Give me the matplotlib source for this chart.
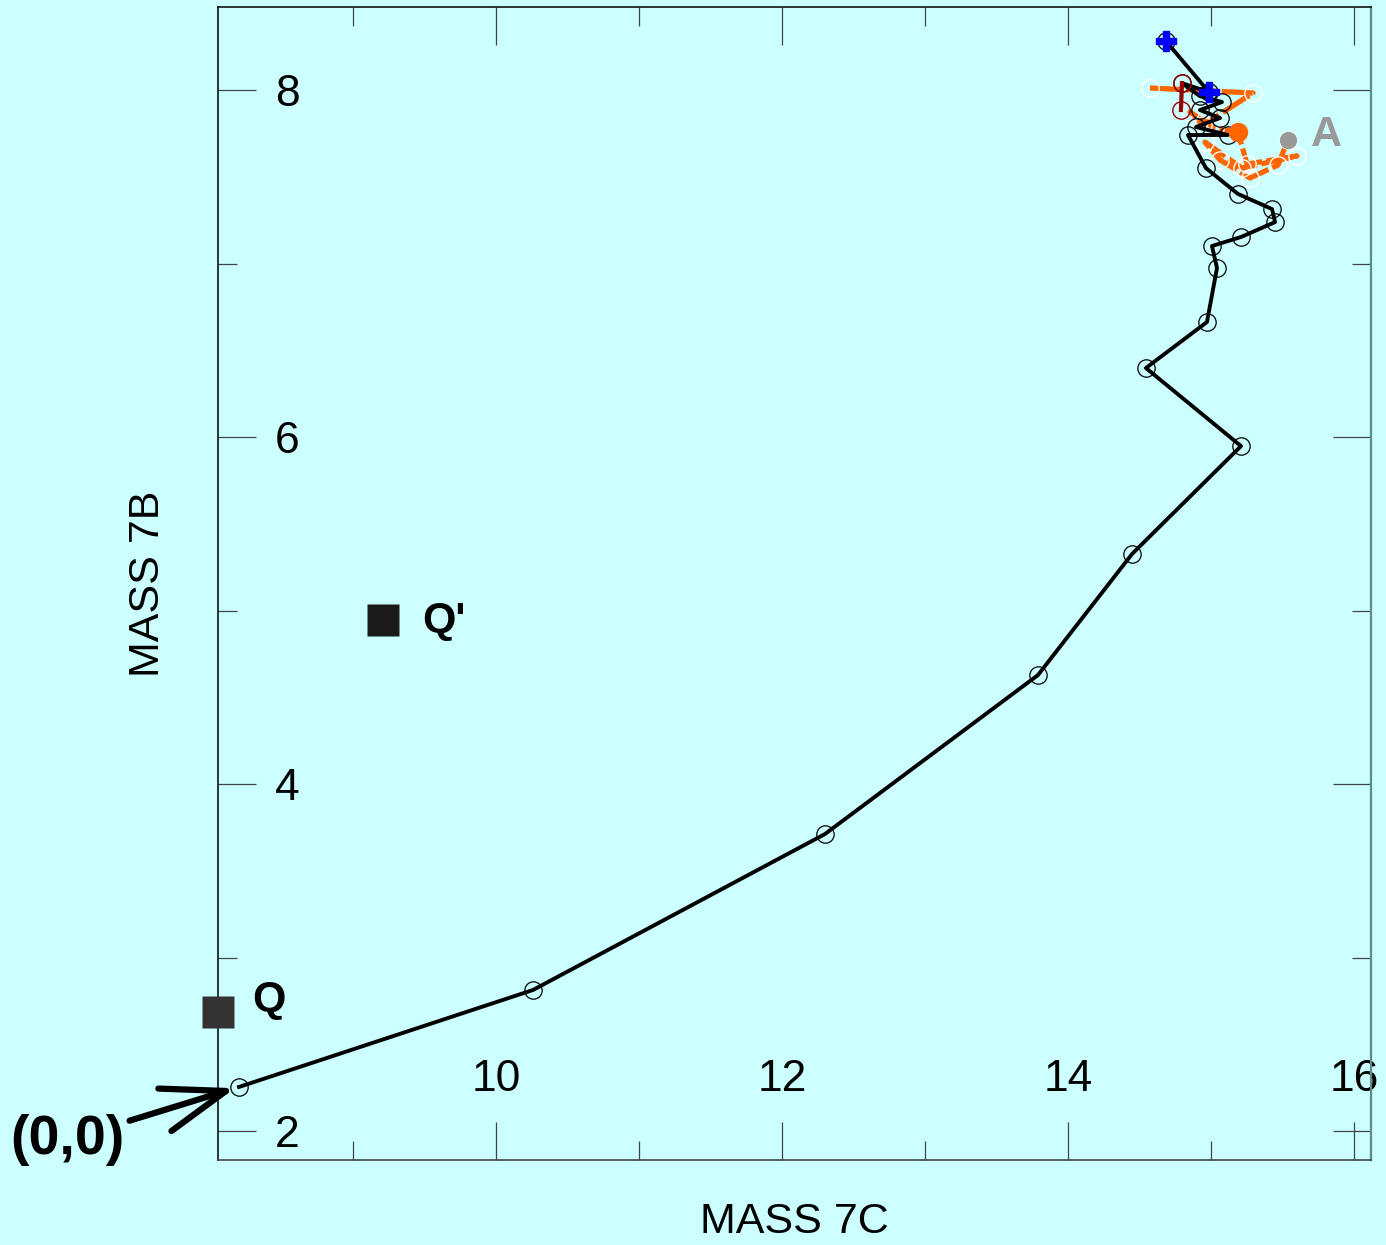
import matplotlib
matplotlib.use("Agg")
import matplotlib.pyplot as plt
from matplotlib.ticker import MultipleLocator, FixedLocator

plt.rcParams['font.family'] = ['Liberation Sans', 'DejaVu Sans']

BG = '#CCFFFF'

# Main trajectory (black) starting from the origin point
path_x = [8.203, 10.259, 12.301, 13.790, 14.448, 15.210, 14.545, 14.972, 15.042,
          15.007, 15.210, 15.448, 15.427, 15.189, 14.965, 14.839, 15.119, 14.895,
          15.063, 14.923, 15.077, 14.923, 14.797, 14.986, 14.685]
path_y = [2.254, 2.813, 3.712, 4.628, 5.326, 5.948, 6.398, 6.663, 6.974,
          7.101, 7.153, 7.239, 7.314, 7.401, 7.550, 7.741, 7.741, 7.787,
          7.839, 7.885, 7.931, 7.965, 8.040, 7.988, 8.282]

# Secondary trajectory (orange, dashed)
orange_x = [14.573, 15.294, 14.944, 14.853, 15.028, 15.189, 15.252, 15.601,
            15.217, 14.958, 15.063, 15.273, 15.469, 15.538]
orange_y = [8.012, 7.983, 7.798, 7.873, 7.781, 7.758, 7.573, 7.620,
            7.550, 7.700, 7.597, 7.493, 7.568, 7.712]

# Short dark-red segment
red_x = [14.797, 14.790]
red_y = [8.040, 7.885]

# Highlighted points
cross_x = [14.685, 14.986]
cross_y = [8.282, 7.988]
orange_dot = (15.189, 7.758)
point_a = (15.538, 7.712)
q_point = (8.056, 2.686)
q_prime = (9.210, 4.945)

x_major = [10, 12, 14, 16]
y_major = [2, 4, 6, 8]
x_labels = ['10', '12', '14', '16']
y_labels = ['2', '4', '6', '8']

W, H = 1386, 1245
fig = plt.figure(figsize=(W / 100, H / 100), dpi=100, facecolor=BG)
ax = fig.add_axes([218 / W, 1 - 1160 / H, (1371 - 218) / W, (1160 - 7.3) / H])
ax.set_facecolor(BG)
ax.set_xlim(8.056, 16.119)
ax.set_ylim(1.833, 8.477)

# orange trajectory
ax.plot(orange_x, orange_y, color='#FF6600', lw=3.8, linestyle=(0, (6, 0.8)),
        zorder=2, solid_capstyle='butt')
ax.plot(orange_x, orange_y, linestyle='none', marker='o', ms=12.5, mfc='none',
        mec='white', mew=1.0, zorder=2.5)

# black trajectory
ax.plot(path_x, path_y, color='black', lw=2.8, zorder=3)
ax.plot(path_x, path_y, linestyle='none', marker='o', ms=12.5, mfc='none',
        mec='black', mew=0.9, zorder=3.5)

# dark-red segment
ax.plot(red_x, red_y, color='#990000', lw=3.0, zorder=3.2)
ax.plot(red_x, red_y, linestyle='none', marker='o', ms=12.5, mfc='none',
        mec='#990000', mew=1.0, zorder=3.6)

ax.plot(*orange_dot, marker='o', ms=14, color='#FF6600', mec='none', zorder=4)
ax.plot(*point_a, marker='o', ms=12.5, color='#999999', mec='none', zorder=4)
ax.plot(cross_x, cross_y, linestyle='none', marker='P', ms=15, color='#0000FF',
        mec='#0000FF', zorder=5)

ax.plot(*q_point, marker='s', ms=23, color='#333333', mec='none', zorder=5, clip_on=False)
ax.plot(*q_prime, marker='s', ms=23, color='#1A1A1A', mec='none', zorder=5)

ax.text(8.295, 2.755, 'Q', fontsize=31, fontweight='bold', ha='left', va='center')
ax.text(9.483, 4.94, "Q'", fontsize=31, fontweight='bold', ha='left', va='center')
ax.text(15.700, 7.741, 'A', fontsize=31, fontweight='bold', color='#999999',
        ha='left', va='center')

ax.annotate('(0,0)', xy=(path_x[0], path_y[0]), xycoords='data',
            xytext=(67, H - 1140), textcoords='figure pixels',
            fontsize=40, fontweight='bold', ha='center', va='center',
            arrowprops=dict(arrowstyle='->, head_length=2.3, head_width=0.8',
                            lw=4.5, color='black', mutation_scale=20,
                            shrinkA=2, shrinkB=3),
            annotation_clip=False, zorder=6)

# ticks inside the frame with labels drawn inside
ax.xaxis.set_major_locator(FixedLocator(x_major))
ax.yaxis.set_major_locator(FixedLocator(y_major))
ax.set_xticklabels(x_labels)
ax.set_yticklabels(y_labels)
ax.xaxis.set_minor_locator(MultipleLocator(1))
ax.yaxis.set_minor_locator(MultipleLocator(1))
ax.tick_params(which='major', direction='in', length=27.5, width=0.9, color='#444444',
               top=True, right=True, labelsize=32)
ax.tick_params(which='minor', direction='in', length=14, width=0.9, color='#444444',
               top=True, right=True)
ax.tick_params(axis='x', which='major', pad=-73)
ax.tick_params(axis='y', which='major', pad=-59)

for side in ['left', 'top']:
    ax.spines[side].set_color('#111111')
    ax.spines[side].set_linewidth(1.2)
ax.spines['bottom'].set_color('#444444')
ax.spines['bottom'].set_linewidth(1.2)
ax.spines['right'].set_color('#5E8C8C')
ax.spines['right'].set_linewidth(1.6)

ax.set_xlabel('MASS 7C', fontsize=31)
ax.set_ylabel('MASS 7B', fontsize=31)
ax.xaxis.set_label_coords(0.5, (1160 - 1222) / 1152.7)
ax.xaxis.label.set_va('center')
ax.yaxis.set_label_coords((148 - 218) / 1153, 0.5)
ax.yaxis.label.set_va('center')

fig.savefig('out.png', dpi=100, facecolor=BG)
